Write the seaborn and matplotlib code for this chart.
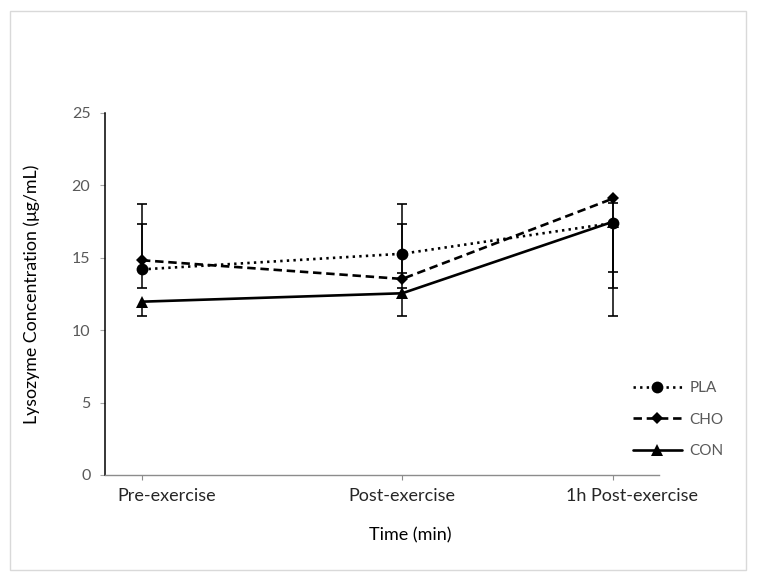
import numpy as np
import pandas as pd
import matplotlib
matplotlib.use("Agg")
import matplotlib.pyplot as plt
import seaborn as sns
from matplotlib.patches import Rectangle
from matplotlib.transforms import ScaledTranslation

# ---- data ----
timepoints = ["Pre-exercise", "Post-exercise", "1h Post-exercise"]
time_pos = [0, 74, 134]
groups = ["PLA", "CHO", "CON"]
pla = [14.2, 15.28, 17.4]
cho = [14.83, 13.54, 19.1]
con = [11.97, 12.55, 17.5]
nan = np.nan
pla_err_up = [4.5, 3.42, 1.4]
pla_err_down = [nan, 1.31, 3.4]
cho_err_up = [2.47, 3.76, nan]
cho_err_down = [1.93, 0.64, 6.2]
con_err_up = [nan, nan, nan]
con_err_down = [0.97, 1.55, 6.5]
yticks = [0, 5, 10, 15, 20, 25]

values = {"PLA": pla, "CHO": cho, "CON": con}
errs = {"PLA": (pla_err_down, pla_err_up),
        "CHO": (cho_err_down, cho_err_up),
        "CON": (con_err_down, con_err_up)}

df = pd.DataFrame({
    "group": np.repeat(groups, len(timepoints)),
    "pos": time_pos * len(groups),
    "value": pla + cho + con,
})

sns.set_theme(style="white")
plt.rcParams["font.family"] = ["Lato", "DejaVu Sans"]

W, H = 757, 581
fig = plt.figure(figsize=(W / 100, H / 100), dpi=100)
ax = fig.add_axes([105 / W, 1 - 475 / H, 554 / W, 362 / H])

lw = 1.9
sns.lineplot(data=df, x="pos", y="value", hue="group", style="group",
             hue_order=groups, style_order=groups,
             palette={g: "black" for g in groups},
             markers={"PLA": "o", "CHO": "D", "CON": "^"},
             dashes={"PLA": (0.9, 1.6), "CHO": (3.2, 1.8), "CON": ""},
             linewidth=lw, markersize=8.5, markeredgewidth=0,
             legend=False, ax=ax, zorder=3)

series_lines = list(ax.lines[:3])
for ln in series_lines:
    if ln.get_marker() == "D":
        ln.set_markersize(6.5)

# error bars
for g in groups:
    y = np.array(values[g], dtype=float)
    x = np.array(time_pos, dtype=float)
    down, up = (np.array(e, dtype=float) for e in errs[g])
    for e, sign in ((up, 1), (down, -1)):
        m = ~np.isnan(e)
        if not m.any():
            continue
        ends = y[m] + sign * e[m]
        ax.vlines(x[m], y[m], ends, color="black", lw=1.1, zorder=2)
        ax.plot(x[m], ends, ls="none", marker="_", ms=7, mew=1.2,
                color="black", zorder=2)

ax.set_xlim(-10.5, 147)
ax.set_ylim(0, 25)
ax.set_yticks(yticks)
ax.set_xticks(time_pos)
ax.set_xticklabels(timepoints)

for s in ("top", "right"):
    ax.spines[s].set_visible(False)
ax.spines["left"].set_color("black")
ax.spines["left"].set_linewidth(1.1)
ax.spines["bottom"].set_color("#8c8c8c")
ax.spines["bottom"].set_linewidth(1.0)

ax.tick_params(axis="y", which="both", left=True, length=3.5, width=0.8,
               color="#a6a6a6", labelcolor="#595959", labelsize=11.5, pad=7)
ax.tick_params(axis="x", which="both", bottom=True, length=3.5, width=0.8,
               color="#8c8c8c", labelcolor="#262626", labelsize=13, pad=6)

# shift edge category labels as in the reference
offsets = [25, 0, 19]
for lab, dx in zip(ax.get_xticklabels(), offsets):
    lab.set_transform(lab.get_transform() + ScaledTranslation(dx / 100, 0, fig.dpi_scale_trans))

ax.set_ylabel("Lysozyme Concentration (μg/mL)", fontsize=12.8, color="black")
ax.yaxis.set_label_coords((40 - 105) / 554, 0.5)
ax.set_xlabel("Time (min)", fontsize=13, color="black")
ax.xaxis.set_label_coords((410 - 105) / 554, -(527 - 475) / 362)

leg = fig.legend(series_lines, groups, loc="upper left",
                 bbox_to_anchor=(633 / W, 1 - 381 / H),
                 frameon=False, borderpad=0, borderaxespad=0,
                 handlelength=3.2, handletextpad=0.5, labelspacing=1.15,
                 fontsize=11, numpoints=1)
for t in leg.get_texts():
    t.set_color("#595959")

fig.patches.append(Rectangle((10 / W, 11 / H), 736 / W, 559 / H,
                             transform=fig.transFigure, fill=False,
                             ec="#d9d9d9", lw=1))

fig.savefig("out.png", dpi=100)
